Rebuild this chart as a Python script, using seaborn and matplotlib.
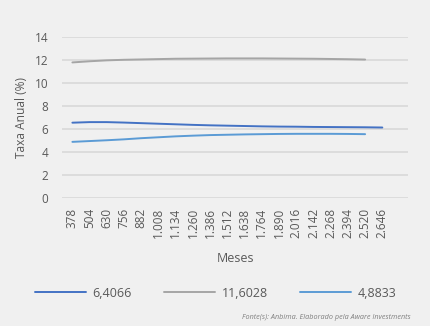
import matplotlib
matplotlib.use("Agg")
import matplotlib.pyplot as plt
import pandas as pd
import seaborn as sns

meses = [378, 504, 630, 756, 882, 1008, 1134, 1260, 1386, 1512,
         1638, 1764, 1890, 2016, 2142, 2268, 2394, 2520, 2646]
mes_labels = [f"{m:,}".replace(",", ".") for m in meses]

taxa_6_4066 = [6.55, 6.60, 6.60, 6.56, 6.51, 6.46, 6.41, 6.36, 6.32, 6.29,
               6.26, 6.23, 6.21, 6.20, 6.18, 6.17, 6.16, 6.15, 6.13]
taxa_11_6028 = [11.80, 11.90, 11.98, 12.03, 12.06, 12.09, 12.12, 12.13, 12.14,
                12.15, 12.15, 12.15, 12.14, 12.13, 12.12, 12.10, 12.08, 12.05]
taxa_4_8833 = [4.88, 4.95, 5.02, 5.10, 5.20, 5.28, 5.36, 5.42, 5.47,
               5.50, 5.53, 5.55, 5.57, 5.58, 5.58, 5.58, 5.57, 5.55]

series = {
    "6,4066": taxa_6_4066,
    "11,6028": taxa_11_6028,
    "4,8833": taxa_4_8833,
}
colors = {"6,4066": "#4472C4", "11,6028": "#A5A5A5", "4,8833": "#5B9BD5"}

rows = []
for name, vals in series.items():
    for i, v in enumerate(vals):
        rows.append({"pos": i, "taxa": v, "curva": name})
df = pd.DataFrame(rows)

sns.set_theme(style="white")
plt.rcParams["font.family"] = ["Open Sans", "DejaVu Sans"]
text_color = "#595959"
bg = "#F0F0F0"

fig = plt.figure(figsize=(4.31, 3.26), dpi=100, facecolor=bg)
ax = fig.add_axes([0.144, 0.393, 0.803, 0.493], facecolor=bg)

sns.lineplot(data=df, x="pos", y="taxa", hue="curva", palette=colors,
             hue_order=list(series.keys()), linewidth=1.4, ax=ax, legend=False)

ax.set_ylim(0, 14)
ax.set_yticks(range(0, 15, 2))
ax.set_xlim(-0.6, 19.5)
ax.set_xticks(range(len(meses)))
ax.set_xticklabels(mes_labels, rotation=90)
ax.tick_params(axis="both", colors=text_color, labelsize=8.5, length=0)
ax.tick_params(axis="y", pad=10)
ax.tick_params(axis="x", pad=7)
ax.yaxis.grid(True, color="#D9D9D9", linewidth=1.2)
for s in ax.spines.values():
    s.set_visible(False)
ax.set_xlabel("Meses", color=text_color, fontsize=9, labelpad=10)
ax.set_ylabel("Taxa Anual (%)", color=text_color, fontsize=8.6, labelpad=5)

handles = [plt.Line2D([], [], color=colors[k], linewidth=1.4) for k in series]
fig.legend(handles, list(series.keys()), loc="center", ncol=3,
           bbox_to_anchor=(0.5, 0.101), frameon=False, handlelength=4.1,
           handletextpad=0.5, columnspacing=2.6, fontsize=9,
           labelcolor=text_color)

fig.text(0.952, 0.027, "Fonte(s): Anbima. Elaborado pela Aware Investments",
         ha="right", va="center", fontsize=5.2, style="italic", color="#7F7F7F")

fig.savefig("out.png", dpi=100, facecolor=bg)
